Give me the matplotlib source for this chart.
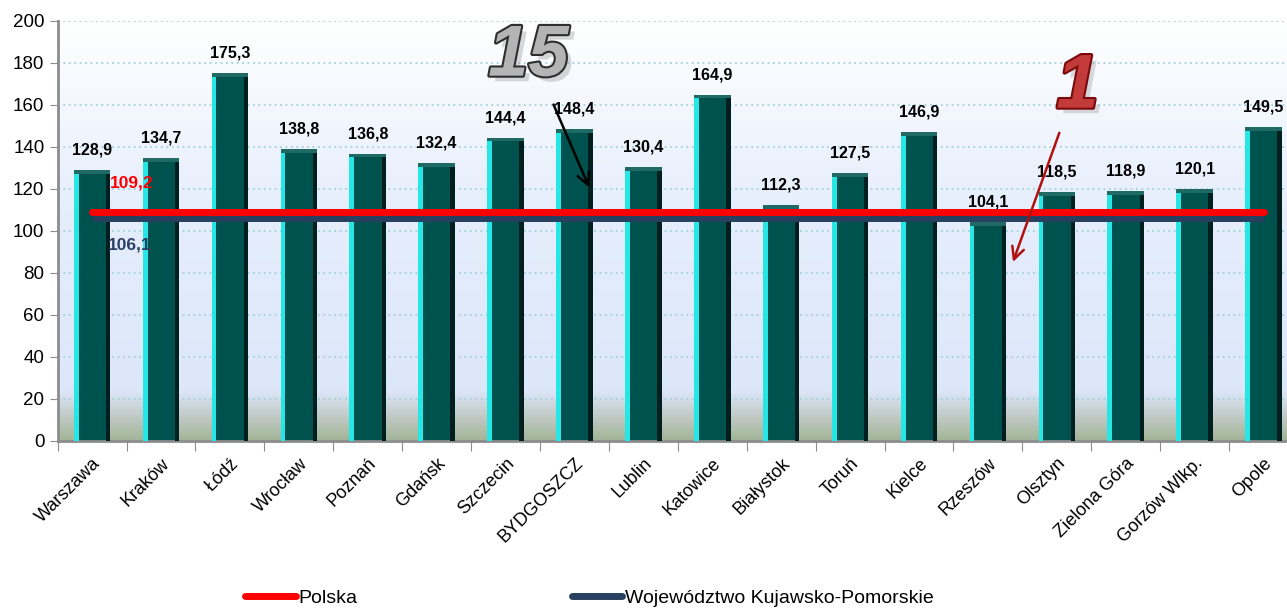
import numpy as np
import matplotlib
matplotlib.use("Agg")
import matplotlib.pyplot as plt
from matplotlib.colors import LinearSegmentedColormap
import matplotlib.patheffects as pe
from matplotlib.lines import Line2D

# Dane
miasta = ['Warszawa', 'Kraków', 'Łódź', 'Wrocław', 'Poznań', 'Gdańsk', 'Szczecin',
          'BYDGOSZCZ', 'Lublin', 'Katowice', 'Białystok', 'Toruń', 'Kielce',
          'Rzeszów', 'Olsztyn', 'Zielona Góra', 'Gorzów Wlkp.', 'Opole']
wartosci = [128.9, 134.7, 175.3, 138.8, 136.8, 132.4, 144.4, 148.4, 130.4, 164.9,
            112.3, 127.5, 146.9, 104.1, 118.5, 118.9, 120.1, 149.5]
polska = 109.2
kujawsko_pomorskie = 106.1

plt.rcParams['font.family'] = ['Liberation Sans Narrow', 'Liberation Sans', 'DejaVu Sans']

fig = plt.figure(figsize=(12.87, 6.09), dpi=100)
ax = fig.add_axes([0.0448, 0.2759, 0.9552, 0.6897])

x = np.arange(len(miasta))
ax.set_xlim(-0.5, 17.34)
ax.set_ylim(0, 200)

# Tło z gradientem
cmap_bg = LinearSegmentedColormap.from_list('bg', [(0.0, '#a2b497'), (0.06, '#c3ccc9'),
                                                   (0.12, '#dde7fa'), (0.55, '#e6eefc'),
                                                   (1.0, '#ffffff')])
grad = np.linspace(0, 1, 256).reshape(-1, 1)
ax.imshow(grad, cmap=cmap_bg, aspect='auto', origin='lower',
          extent=[-0.5, 17.34, 0, 200], zorder=0)

ax.yaxis.grid(True, linestyle=(0, (1, 2)), color='#9fd3de', linewidth=1.3, zorder=1)
ax.set_axisbelow(True)

# Słupki
w = 0.53
ax.bar(x, wartosci, width=w, color='#00524e', zorder=2)
ax.bar(x - w / 2, wartosci, width=0.07, align='edge', color='#27e6e6', zorder=3)
ax.bar(x + w / 2 - 0.065, wartosci, width=0.065, align='edge', color='#021f1f', zorder=3)
ax.bar(x, [1.8] * len(x), bottom=np.array(wartosci) - 1.8, width=w, color='#1f6a64', zorder=3)

for xi, v in zip(x, wartosci):
    ax.text(xi, v + 6, f'{v:.1f}'.replace('.', ','), ha='center', va='bottom',
            fontsize=11.5, fontweight='bold', zorder=6)

# Linie odniesienia
ax.plot([x[0], x[-1]], [kujawsko_pomorskie] * 2, color='#27405f', linewidth=5,
        solid_capstyle='butt', zorder=4)
ax.plot([x[0], x[-1]], [polska] * 2, color='#ff0000', linewidth=5,
        solid_capstyle='round', zorder=5)
ax.text(0.26, 123, f'{polska:.1f}'.replace('.', ','), color='#ff0000', fontsize=12.5,
        fontweight='bold', va='center', zorder=6)
ax.text(0.23, 93.5, f'{kujawsko_pomorskie:.1f}'.replace('.', ','), color='#2b3f63',
        fontsize=12.5, fontweight='bold', va='center', zorder=6)

# Adnotacje
ax.text(6.33, 183, '15', fontsize=52, fontweight='bold', style='italic', color='#b4b4b4',
        ha='center', va='center', zorder=7,
        path_effects=[pe.withSimplePatchShadow(offset=(4, -4), shadow_rgbFace='#808080'),
                      pe.withStroke(linewidth=3, foreground='#2e2e2e')])
ax.annotate('', xy=(7.23, 119.5), xytext=(6.68, 161.4),
            arrowprops=dict(arrowstyle='->', color='black', lw=1.8, mutation_scale=22), zorder=7)
ax.text(14.3, 168, '1', fontsize=55, fontweight='bold', style='italic', color='#c23a3a',
        ha='center', va='center', zorder=7,
        path_effects=[pe.withSimplePatchShadow(offset=(4, -4), shadow_rgbFace='#8a8a8a'),
                      pe.withStroke(linewidth=3, foreground='#7a0a0a')])
ax.annotate('', xy=(13.35, 84), xytext=(14.05, 148),
            arrowprops=dict(arrowstyle='->', color='#b01010', lw=1.8, mutation_scale=22), zorder=7)

# Osie
ax.set_yticks(range(0, 201, 20))
ax.tick_params(axis='y', labelsize=13.5, length=6, color='#8c8c8c', direction='out')
ax.set_xticks(np.arange(-0.5, 17.5, 1.0), minor=False)
ax.set_xticklabels([])
ax.tick_params(axis='x', length=7, color='#8c8c8c', direction='out', pad=2)
ax.set_xticks(x, minor=True)
ax.set_xticklabels(miasta, minor=True, rotation=45, ha='right', rotation_mode='anchor',
                   fontsize=13)
ax.tick_params(axis='x', which='minor', length=0, pad=10)
for s in ['top', 'right']:
    ax.spines[s].set_visible(False)
for s in ['left', 'bottom']:
    ax.spines[s].set_color('#8c8c8c')
    ax.spines[s].set_linewidth(2)

# Legenda
uchwyty = [Line2D([], [], color='#ff0000', lw=5, solid_capstyle='round'),
           Line2D([], [], color='#27405f', lw=5, solid_capstyle='round')]
fig.legend(uchwyty, ['Polska', 'Województwo Kujawsko-Pomorskie'], loc='lower left',
           bbox_to_anchor=(0.177, -0.025), ncol=2, frameon=False, fontsize=14,
           handlelength=2.6, handletextpad=0.15, columnspacing=11.0)

fig.savefig('out.png', dpi=100)
